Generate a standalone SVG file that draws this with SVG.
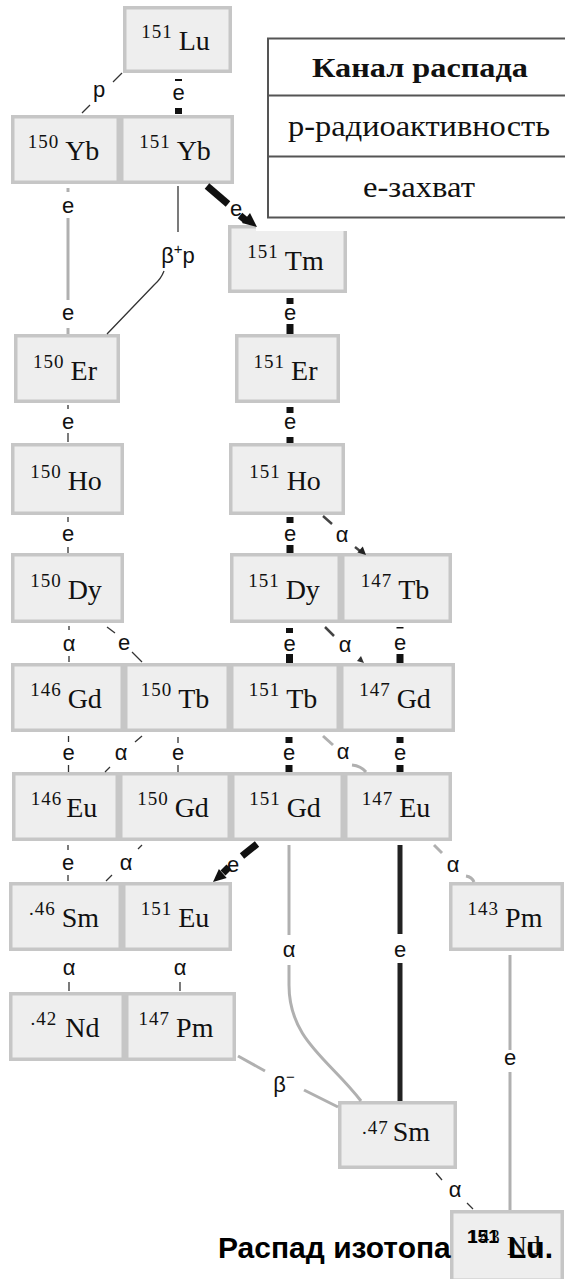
<svg xmlns="http://www.w3.org/2000/svg" width="565" height="1279" viewBox="0 0 565 1279">
  <style>
    .box { fill: #eeeeee; stroke: #c6c6c6; stroke-width: 3.5; }
    .nt { font-family: "Liberation Serif", serif; fill: #111; text-anchor: middle; }
    .ms { font-size: 19px; letter-spacing: 1px; }
    .el { font-size: 28px; }
    .lb { font-family: "Liberation Sans Narrow", "Liberation Sans", sans-serif; font-size: 22px; fill: #111; text-anchor: middle; }
    .thk { stroke: #111; stroke-width: 7; fill: none; }
    .blk { stroke: #222; stroke-width: 5; fill: none; }
    .thn { stroke: #333; stroke-width: 1.3; fill: none; }
    .drk { stroke: #444; stroke-width: 2.5; fill: none; }
    .gry { stroke: #b0b0b0; stroke-width: 3; fill: none; }
    .leg { font-family: "Liberation Serif", serif; fill: #111; text-anchor: middle; }
  </style>

  <!-- nuclide boxes -->
  <g id="n-lu151"><rect class="box" x="124.75" y="7.75" width="105.5" height="63.5"/><text class="nt" x="175.5" y="50"><tspan class="ms" dy="-12">151</tspan><tspan class="el" dx="6" dy="12">Lu</tspan></text></g>
  <g id="n-yb150"><rect class="box" x="12.75" y="116.75" width="105.5" height="65.5"/><text class="nt" x="63.5" y="160"><tspan class="ms" dy="-12">150</tspan><tspan class="el" dx="6" dy="12">Yb</tspan></text></g>
  <g id="n-yb151"><rect class="box" x="121.75" y="116.75" width="110.5" height="65.5"/><text class="nt" x="175" y="160"><tspan class="ms" dy="-12">151</tspan><tspan class="el" dx="6" dy="12">Yb</tspan></text></g>
  <g id="n-tm151"><rect class="box" x="229.75" y="226.75" width="115.5" height="64.5"/><text class="nt" x="285.5" y="270"><tspan class="ms" dy="-12">151</tspan><tspan class="el" dx="6" dy="12">Tm</tspan></text></g>
  <g id="n-er150"><rect class="box" x="15.75" y="335.75" width="102.5" height="65.5"/><text class="nt" x="65" y="380"><tspan class="ms" dy="-12">150</tspan><tspan class="el" dx="6" dy="12">Er</tspan></text></g>
  <g id="n-er151"><rect class="box" x="236.75" y="335.75" width="101.5" height="65.5"/><text class="nt" x="285.5" y="380"><tspan class="ms" dy="-12">151</tspan><tspan class="el" dx="6" dy="12">Er</tspan></text></g>
  <g id="n-ho150"><rect class="box" x="12.75" y="444.75" width="109.5" height="68.5"/><text class="nt" x="66" y="490"><tspan class="ms" dy="-12">150</tspan><tspan class="el" dx="6" dy="12">Ho</tspan></text></g>
  <g id="n-ho151"><rect class="box" x="230.75" y="444.75" width="112.5" height="68.5"/><text class="nt" x="285" y="490"><tspan class="ms" dy="-12">151</tspan><tspan class="el" dx="6" dy="12">Ho</tspan></text></g>
  <g id="n-dy150"><rect class="box" x="12.75" y="554.75" width="109.5" height="66.5"/><text class="nt" x="66" y="599"><tspan class="ms" dy="-12">150</tspan><tspan class="el" dx="6" dy="12">Dy</tspan></text></g>
  <g id="n-dy151"><rect class="box" x="231.75" y="554.75" width="107.5" height="66.5"/><text class="nt" x="284" y="599"><tspan class="ms" dy="-12">151</tspan><tspan class="el" dx="6" dy="12">Dy</tspan></text></g>
  <g id="n-tb147"><rect class="box" x="342.75" y="554.75" width="107.5" height="66.5"/><text class="nt" x="395" y="599"><tspan class="ms" dy="-12">147</tspan><tspan class="el" dx="6" dy="12">Tb</tspan></text></g>
  <g id="n-gd146"><rect class="box" x="12.75" y="664.75" width="109.5" height="65.5"/><text class="nt" x="66" y="708"><tspan class="ms" dy="-12">146</tspan><tspan class="el" dx="6" dy="12">Gd</tspan></text></g>
  <g id="n-tb150"><rect class="box" x="125.75" y="664.75" width="102.5" height="65.5"/><text class="nt" x="175" y="708"><tspan class="ms" dy="-12">150</tspan><tspan class="el" dx="6" dy="12">Tb</tspan></text></g>
  <g id="n-tb151"><rect class="box" x="231.75" y="664.75" width="106.5" height="65.5"/><text class="nt" x="283" y="708"><tspan class="ms" dy="-12">151</tspan><tspan class="el" dx="6" dy="12">Tb</tspan></text></g>
  <g id="n-gd147"><rect class="box" x="341.75" y="664.75" width="111.5" height="65.5"/><text class="nt" x="395" y="708"><tspan class="ms" dy="-12">147</tspan><tspan class="el" dx="6" dy="12">Gd</tspan></text></g>
  <g id="n-eu146"><rect class="box" x="13.75" y="773.75" width="103.5" height="65.5"/><text class="nt" x="64" y="817"><tspan class="ms" dy="-12">146</tspan><tspan class="el" dx="4" dy="12">Eu</tspan></text></g>
  <g id="n-gd150"><rect class="box" x="120.75" y="773.75" width="108.5" height="65.5"/><text class="nt" x="173" y="817"><tspan class="ms" dy="-12">150</tspan><tspan class="el" dx="6" dy="12">Gd</tspan></text></g>
  <g id="n-gd151"><rect class="box" x="232.75" y="773.75" width="109.5" height="65.5"/><text class="nt" x="285" y="817"><tspan class="ms" dy="-12">151</tspan><tspan class="el" dx="6" dy="12">Gd</tspan></text></g>
  <g id="n-eu147"><rect class="box" x="345.75" y="773.75" width="104.5" height="65.5"/><text class="nt" x="396" y="817"><tspan class="ms" dy="-12">147</tspan><tspan class="el" dx="6" dy="12">Eu</tspan></text></g>
  <g id="n-sm146"><rect class="box" x="10.75" y="883.75" width="109.5" height="65.5"/><text class="nt" x="64" y="927"><tspan class="ms" dy="-12">.46</tspan><tspan class="el" dx="6" dy="12">Sm</tspan></text></g>
  <g id="n-eu151"><rect class="box" x="123.75" y="883.75" width="106.5" height="65.5"/><text class="nt" x="175" y="927"><tspan class="ms" dy="-12">151</tspan><tspan class="el" dx="6" dy="12">Eu</tspan></text></g>
  <g id="n-pm143"><rect class="box" x="450.75" y="883.75" width="111.5" height="65.5"/><text class="nt" x="505" y="927"><tspan class="ms" dy="-12">143</tspan><tspan class="el" dx="6" dy="12">Pm</tspan></text></g>
  <g id="n-nd146"><rect class="box" x="10.75" y="993.75" width="112.5" height="65.5"/><text class="nt" x="65" y="1037"><tspan class="ms" dy="-12">.42</tspan><tspan class="el" dx="8" dy="12">Nd</tspan></text></g>
  <g id="n-pm147"><rect class="box" x="126.75" y="993.75" width="107.5" height="65.5"/><text class="nt" x="176" y="1037"><tspan class="ms" dy="-12">147</tspan><tspan class="el" dx="6" dy="12">Pm</tspan></text></g>
  <g id="n-sm147"><rect class="box" x="339.75" y="1102.75" width="115.5" height="64.5"/><text class="nt" x="396" y="1141"><tspan class="ms" dy="-7">.47</tspan><tspan class="el" dx="4" dy="7">Sm</tspan></text></g>
  <g id="n-nd143"><rect class="box" x="451.75" y="1211.75" width="110.5" height="68.5"/><text class="nt" x="505" y="1255"><tspan class="ms" dy="-12">143</tspan><tspan class="el" dx="6" dy="12">Nd</tspan></text></g>

  <!-- decay channel table -->
  <g id="legend">
    <rect x="256" y="30" width="312" height="201" fill="#ffffff"/>
    <rect x="268" y="38.5" width="302" height="179" fill="#ffffff" stroke="#555" stroke-width="2"/>
    <line x1="268" y1="95.5" x2="570" y2="95.5" stroke="#555" stroke-width="2"/>
    <line x1="268" y1="156.5" x2="570" y2="156.5" stroke="#555" stroke-width="2"/>
    <text class="leg" x="420" y="77" font-size="28" font-weight="bold" textLength="216" lengthAdjust="spacingAndGlyphs">Канал распада</text>
    <text class="leg" x="419" y="136" font-size="30" textLength="262" lengthAdjust="spacingAndGlyphs">р-радиоактивность</text>
    <text class="leg" x="419" y="197" font-size="30" textLength="112" lengthAdjust="spacingAndGlyphs">е-захват</text>
  </g>

  <!-- decay connectors -->
  <g id="connectors">
    <!-- 151Lu to 150Yb -->
    <line class="thn" x1="122" y1="73" x2="113" y2="82"/>
    <line class="thn" x1="90" y1="105" x2="82" y2="113"/>
    <text class="lb" x="99" y="97">p</text>
    <!-- 151Lu to 151Yb -->
    <line class="thk" x1="178.5" y1="79" x2="178.5" y2="81"/>
    <line class="thk" x1="178.5" y1="108" x2="178.5" y2="114"/>
    <text class="lb" x="178.5" y="100">e</text>
    <!-- 150Yb to 150Er -->
    <line class="gry" x1="68" y1="188" x2="68" y2="192"/>
    <text class="lb" x="68" y="213">e</text>
    <line class="gry" x1="68" y1="218" x2="68" y2="300"/>
    <text class="lb" x="68" y="320">e</text>
    <line class="gry" x1="68" y1="328" x2="68" y2="334"/>
    <!-- 151Yb to 150Er -->
    <path class="thn" d="M178,186 V232"/>
    <text class="lb" x="178" y="263">β<tspan dy="-9" font-size="15">+</tspan><tspan dy="9">p</tspan></text>
    <path class="thn" d="M164,271 Q161,279 154,285 L107,334"/>
    <!-- 151Yb to 151Tm -->
    <line class="thk" x1="207" y1="186" x2="228" y2="204"/>
    <text class="lb" x="236" y="216">e</text>
    <line class="thk" x1="240" y1="215.5" x2="246" y2="220.5" stroke-width="5"/>
    <polygon points="257,227 242,223 250,213" fill="#111"/>
    <!-- 151Tm to 151Er -->
    <line class="thk" x1="290" y1="298" x2="290" y2="304"/>
    <text class="lb" x="290" y="320">e</text>
    <line class="thk" x1="290" y1="324" x2="290" y2="334"/>
    <!-- 150Er to 150Ho -->
    <line class="thn" x1="68" y1="405" x2="68" y2="409"/>
    <text class="lb" x="68" y="429">e</text>
    <line class="thn" x1="68" y1="433" x2="68" y2="442"/>
    <!-- 151Er to 151Ho -->
    <line class="thk" x1="290" y1="407" x2="290" y2="413"/>
    <text class="lb" x="290" y="429">e</text>
    <line class="thk" x1="290" y1="437" x2="290" y2="443"/>
    <!-- 150Ho to 150Dy -->
    <line class="thn" x1="68" y1="517" x2="68" y2="522"/>
    <text class="lb" x="68" y="541">e</text>
    <line class="thn" x1="68" y1="547" x2="68" y2="553"/>
    <!-- 151Ho to 151Dy -->
    <line class="thk" x1="290" y1="517" x2="290" y2="523"/>
    <text class="lb" x="290" y="541">e</text>
    <line class="thk" x1="290" y1="545" x2="290" y2="553"/>
    <!-- 151Ho to 147Tb -->
    <line class="drk" x1="323" y1="516" x2="332" y2="524"/>
    <text class="lb" x="342" y="542">α</text>
    <line class="drk" x1="355" y1="547" x2="360" y2="551" stroke-width="1.5"/>
    <polygon points="366,555 357.4,552.6 362.8,546.6" fill="#222"/>
    <!-- 150Dy to 146Gd -->
    <line class="thn" x1="69" y1="626" x2="69" y2="630"/>
    <text class="lb" x="69" y="651">α</text>
    <line class="thn" x1="69" y1="656" x2="69" y2="662"/>
    <!-- 150Dy to 150Tb -->
    <line class="thn" x1="107" y1="627" x2="115" y2="633"/>
    <text class="lb" x="124" y="650">e</text>
    <line class="thn" x1="132" y1="652" x2="142" y2="662"/>
    <!-- 151Dy to 151Tb -->
    <line class="thk" x1="289.5" y1="628" x2="289.5" y2="633"/>
    <text class="lb" x="289.5" y="651">e</text>
    <line class="thk" x1="289.5" y1="654" x2="289.5" y2="663"/>
    <!-- 151Dy to 147Gd -->
    <line class="drk" x1="325" y1="627" x2="334" y2="636" stroke-width="3"/>
    <text class="lb" x="345" y="652">α</text>
    <polygon points="364,663 357,661 361,656" fill="#333"/>
    <!-- 147Tb to 147Gd -->
    <line class="thk" x1="400" y1="627" x2="400" y2="628.5"/>
    <text class="lb" x="400" y="650">e</text>
    <line class="thk" x1="400" y1="654" x2="400" y2="663"/>
    <!-- 146Gd to 146Eu -->
    <line class="thn" x1="68.5" y1="736" x2="68.5" y2="742"/>
    <text class="lb" x="68.5" y="760">e</text>
    <line class="thn" x1="68.5" y1="765" x2="68.5" y2="772"/>
    <!-- 150Tb to 146Eu -->
    <line class="thn" x1="142" y1="736" x2="135" y2="742"/>
    <text class="lb" x="121" y="760">α</text>
    <line class="thn" x1="110" y1="767" x2="105" y2="772"/>
    <!-- 150Tb to 150Gd -->
    <line class="thn" x1="178" y1="737" x2="178" y2="743"/>
    <text class="lb" x="178" y="760">e</text>
    <line class="thn" x1="178" y1="765" x2="178" y2="772"/>
    <!-- 151Tb to 151Gd -->
    <line class="thk" x1="289" y1="737" x2="289" y2="743"/>
    <text class="lb" x="289" y="760">e</text>
    <line class="thk" x1="289" y1="765" x2="289" y2="772"/>
    <!-- 151Tb to 147Eu -->
    <line class="gry" x1="323" y1="736" x2="333" y2="745"/>
    <text class="lb" x="343" y="759">α</text>
    <path class="gry" d="M352,765 Q361,766 366,772"/>
    <!-- 147Gd to 147Eu -->
    <line class="thk" x1="400" y1="737" x2="400" y2="743"/>
    <text class="lb" x="400" y="760">e</text>
    <line class="thk" x1="400" y1="765" x2="400" y2="772"/>
    <!-- 146Eu to 146Sm -->
    <line class="thn" x1="68" y1="845" x2="68" y2="850"/>
    <text class="lb" x="68" y="870">e</text>
    <line class="thn" x1="68" y1="875" x2="68" y2="881"/>
    <!-- 150Gd to 146Sm -->
    <line class="thn" x1="142" y1="845" x2="138" y2="849"/>
    <text class="lb" x="126" y="870">α</text>
    <line class="thn" x1="112" y1="875" x2="106" y2="881"/>
    <!-- 151Gd to 151Eu -->
    <line class="thk" x1="257" y1="844" x2="242" y2="856"/>
    <text class="lb" x="233" y="872">e</text>
    <line class="thk" x1="229" y1="867" x2="223" y2="873" stroke-width="5"/>
    <polygon points="213,882 226.7,878 218.9,869" fill="#111"/>
    <!-- 151Gd to 147Sm -->
    <path class="gry" d="M289,845 V935"/>
    <text class="lb" x="289" y="957">α</text>
    <path class="gry" d="M289,965 V985 C289,1040 330,1060 361,1101"/>
    <!-- 147Eu to 147Sm -->
    <path class="blk" d="M400,845 V934"/>
    <text class="lb" x="400" y="957">e</text>
    <path class="blk" d="M400,963 V1101"/>
    <!-- 147Eu to 143Pm -->
    <line class="gry" x1="434" y1="845" x2="442" y2="853"/>
    <text class="lb" x="453" y="872">α</text>
    <path class="gry" d="M466,876 Q472,877 474,882"/>
    <!-- 146Sm to 146Nd -->
    <text class="lb" x="69" y="975">α</text>
    <line class="thn" x1="69" y1="982" x2="69" y2="991"/>
    <!-- 151Eu to 147Pm -->
    <text class="lb" x="180" y="975">α</text>
    <line class="thn" x1="180" y1="982" x2="180" y2="991"/>
    <!-- 143Pm to 143Nd -->
    <path class="gry" d="M510,955 V1050"/>
    <text class="lb" x="510" y="1065">e</text>
    <path class="gry" d="M510,1072 V1210"/>
    <!-- 147Pm to 147Sm -->
    <line class="gry" x1="238" y1="1056" x2="265" y2="1071"/>
    <text class="lb" x="284" y="1092">β<tspan dy="-10" font-size="15">−</tspan></text>
    <line class="gry" x1="304" y1="1090" x2="338" y2="1107"/>
    <!-- 147Sm to 143Nd -->
    <line class="thn" x1="436" y1="1173" x2="442" y2="1180"/>
    <text class="lb" x="455" y="1197">α</text>
    <line class="thn" x1="467" y1="1203" x2="473" y2="1209"/>
  </g>

  <!-- caption, printed over the lowest box -->
  <text id="caption" font-family="Liberation Sans, Arial, sans-serif" font-weight="bold" fill="#000"><tspan x="218" y="1258" font-size="30">Распад изотопа</tspan><tspan x="467" y="1243" font-size="19">151</tspan><tspan x="508" y="1258" font-size="30">Lu.</tspan></text>
</svg>
